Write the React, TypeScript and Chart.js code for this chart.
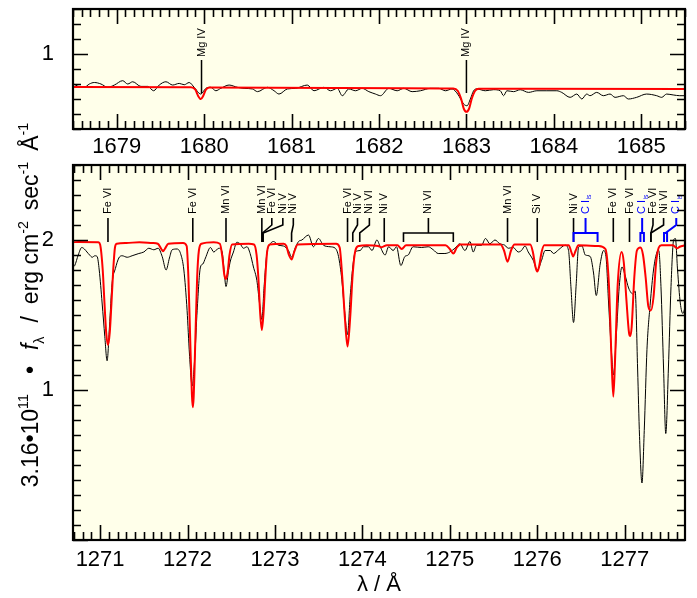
import React, { useEffect, useRef } from 'react';
import { Chart, registerables } from 'chart.js';
Chart.register(...registerables);

const FONT = '"Liberation Sans", Arial, Helvetica, sans-serif';
const BG = '#FFFFEA';

// ---------- top panel (1678.5 - 1685.5 A) ----------
const topXRange = [1678.5, 1685.5];
const topYRange = [0.5, 1.3];
const topXTicks = [1679, 1680, 1681, 1682, 1683, 1684, 1685];
const topYTicks = [1];

const topObsWave = [1678.51, 1678.555, 1678.63, 1678.687, 1678.744, 1678.82, 1678.897, 1678.973, 1679.068, 1679.126, 1679.183, 1679.277, 1679.354, 1679.422, 1679.486, 1679.563, 1679.64, 1679.715, 1679.772, 1679.829, 1679.886, 1679.962, 1680.02, 1680.076, 1680.134, 1680.19, 1680.285, 1680.38, 1680.457, 1680.552, 1680.61, 1680.724, 1680.8, 1680.856, 1680.952, 1681.047, 1681.18, 1681.256, 1681.37, 1681.446, 1681.523, 1681.58, 1681.655, 1681.732, 1681.808, 1681.884, 1681.96, 1682.017, 1682.112, 1682.208, 1682.283, 1682.379, 1682.474, 1682.588, 1682.683, 1682.76, 1682.836, 1682.9, 1682.968, 1683.007, 1683.045, 1683.082, 1683.12, 1683.216, 1683.31, 1683.387, 1683.425, 1683.463, 1683.539, 1683.615, 1683.71, 1683.806, 1683.92, 1684.034, 1684.09, 1684.186, 1684.262, 1684.32, 1684.376, 1684.414, 1684.49, 1684.566, 1684.643, 1684.7, 1684.795, 1684.852, 1684.947, 1685.06, 1685.176, 1685.233, 1685.29, 1685.365, 1685.44, 1685.5];
const topObsFlux = [0.8, 0.785, 0.778, 0.8, 0.81, 0.8, 0.778, 0.793, 0.822, 0.8, 0.815, 0.784, 0.784, 0.755, 0.793, 0.815, 0.793, 0.804, 0.795, 0.81, 0.778, 0.733, 0.771, 0.778, 0.755, 0.771, 0.793, 0.778, 0.771, 0.767, 0.749, 0.778, 0.755, 0.733, 0.767, 0.771, 0.793, 0.755, 0.778, 0.755, 0.771, 0.722, 0.767, 0.755, 0.771, 0.749, 0.733, 0.722, 0.771, 0.755, 0.771, 0.749, 0.755, 0.771, 0.771, 0.755, 0.767, 0.733, 0.667, 0.655, 0.7, 0.755, 0.767, 0.755, 0.762, 0.755, 0.722, 0.755, 0.749, 0.762, 0.744, 0.755, 0.755, 0.755, 0.744, 0.711, 0.733, 0.7, 0.733, 0.722, 0.744, 0.722, 0.733, 0.711, 0.722, 0.7, 0.711, 0.733, 0.722, 0.711, 0.733, 0.727, 0.722, 0.722];

const topModelWave = [1678.5, 1679.85, 1679.9, 1679.93, 1679.962, 1679.99, 1680.02, 1680.06, 1681.5, 1682.85, 1682.9, 1682.94, 1682.97, 1683.0, 1683.03, 1683.06, 1683.1, 1683.14, 1685.5];
const topModelFlux = [0.78, 0.778, 0.762, 0.722, 0.7, 0.722, 0.762, 0.776, 0.774, 0.77, 0.755, 0.7, 0.635, 0.615, 0.635, 0.7, 0.755, 0.768, 0.767];

const topLineWaves = [1679.97, 1683.0];
const topLineTexts = ['Mg IV', 'Mg IV'];

// ---------- bottom panel (1270.69 - 1277.69 A) ----------
const bottomXRange = [1270.69, 1277.69];
const bottomYRange = [0, 2.5];
const bottomXTicks = [1271, 1272, 1273, 1274, 1275, 1276, 1277];
const bottomYTicks = [1, 2];

const bottomObsWave = [1270.69, 1270.71, 1270.75, 1270.79, 1270.82, 1270.85, 1270.88, 1270.91, 1270.94, 1270.966, 1270.99, 1271.023, 1271.054, 1271.08, 1271.107, 1271.137, 1271.175, 1271.214, 1271.252, 1271.31, 1271.366, 1271.443, 1271.5, 1271.557, 1271.614, 1271.664, 1271.71, 1271.755, 1271.793, 1271.824, 1271.88, 1271.92, 1271.958, 1271.995, 1272.022, 1272.053, 1272.083, 1272.11, 1272.148, 1272.175, 1272.205, 1272.262, 1272.3, 1272.358, 1272.396, 1272.415, 1272.44, 1272.47, 1272.49, 1272.525, 1272.564, 1272.6, 1272.64, 1272.68, 1272.716, 1272.754, 1272.793, 1272.823, 1272.85, 1272.876, 1272.907, 1272.937, 1272.983, 1273.04, 1273.097, 1273.154, 1273.193, 1273.23, 1273.27, 1273.308, 1273.384, 1273.44, 1273.498, 1273.555, 1273.63, 1273.69, 1273.727, 1273.765, 1273.795, 1273.83, 1273.86, 1273.89, 1273.918, 1273.975, 1274.013, 1274.07, 1274.11, 1274.166, 1274.204, 1274.26, 1274.3, 1274.352, 1274.39, 1274.44, 1274.486, 1274.524, 1274.58, 1274.676, 1274.753, 1274.81, 1274.867, 1274.944, 1275.0, 1275.058, 1275.115, 1275.173, 1275.23, 1275.268, 1275.305, 1275.363, 1275.408, 1275.458, 1275.516, 1275.573, 1275.63, 1275.668, 1275.725, 1275.783, 1275.82, 1275.86, 1275.897, 1275.954, 1276.0, 1276.05, 1276.09, 1276.149, 1276.187, 1276.244, 1276.32, 1276.358, 1276.385, 1276.415, 1276.446, 1276.472, 1276.511, 1276.55, 1276.606, 1276.644, 1276.675, 1276.72, 1276.759, 1276.786, 1276.816, 1276.847, 1276.873, 1276.904, 1276.938, 1276.969, 1277.007, 1277.045, 1277.095, 1277.12, 1277.148, 1277.17, 1277.198, 1277.224, 1277.255, 1277.293, 1277.33, 1277.37, 1277.39, 1277.415, 1277.445, 1277.47, 1277.5, 1277.53, 1277.56, 1277.58, 1277.605, 1277.636, 1277.666, 1277.69];
const bottomObsFlux = [1.82, 1.83, 1.9, 1.95, 1.94, 1.92, 1.9, 1.885, 1.895, 1.89, 1.8, 1.58, 1.355, 1.195, 1.42, 1.71, 1.81, 1.88, 1.895, 1.885, 1.895, 1.91, 1.92, 1.945, 1.935, 1.945, 1.89, 1.8, 1.88, 1.935, 1.94, 1.91, 1.8, 1.53, 1.24, 1.027, 1.22, 1.53, 1.82, 1.84, 1.88, 1.95, 1.92, 1.945, 1.92, 1.82, 1.69, 1.8, 1.86, 1.92, 1.985, 1.975, 1.945, 1.955, 1.91, 1.82, 1.73, 1.58, 1.47, 1.69, 1.91, 1.965, 1.99, 1.965, 1.96, 1.93, 1.885, 1.945, 1.99, 2.0, 2.033, 1.955, 2.01, 1.965, 1.955, 1.945, 1.89, 1.735, 1.535, 1.37, 1.62, 1.82, 1.92, 1.93, 1.955, 1.955, 1.93, 2.0, 1.955, 1.9, 1.955, 1.93, 1.955, 1.83, 1.89, 1.9, 1.955, 1.95, 1.955, 1.935, 1.91, 1.91, 1.92, 1.945, 1.975, 1.93, 1.99, 1.92, 1.965, 1.965, 2.01, 1.975, 2.0, 1.975, 1.965, 1.945, 1.95, 1.92, 1.93, 1.96, 1.92, 1.865, 1.8, 1.865, 1.93, 1.93, 1.91, 1.935, 1.965, 1.93, 1.69, 1.45, 1.71, 1.95, 1.96, 1.9, 1.89, 1.78, 1.63, 1.84, 1.93, 1.89, 1.58, 1.27, 1.1, 1.36, 1.69, 1.82, 1.76, 1.68, 1.64, 1.66, 1.14, 0.69, 0.38, 0.73, 1.27, 1.58, 1.8, 1.92, 1.93, 1.69, 1.14, 0.71, 1.14, 1.69, 2.0, 2.01, 1.8, 1.58, 1.51, 1.55];

const bottomModelWave = [1270.69, 1270.75, 1270.98, 1271.0, 1271.03, 1271.05, 1271.07, 1271.09, 1271.11, 1271.13, 1271.15, 1271.17, 1271.19, 1271.3, 1271.45, 1271.6, 1271.66, 1271.7, 1271.72, 1271.74, 1271.78, 1271.95, 1271.99, 1272.01, 1272.03, 1272.05, 1272.06, 1272.07, 1272.09, 1272.11, 1272.13, 1272.16, 1272.3, 1272.37, 1272.4, 1272.42, 1272.44, 1272.46, 1272.48, 1272.51, 1272.7, 1272.76, 1272.79, 1272.81, 1272.83, 1272.85, 1272.87, 1272.89, 1272.91, 1272.94, 1273.1, 1273.13, 1273.16, 1273.19, 1273.22, 1273.26, 1273.7, 1273.74, 1273.77, 1273.8, 1273.83, 1273.86, 1273.89, 1273.92, 1273.96, 1274.05, 1274.18, 1274.22, 1274.28, 1274.4, 1274.45, 1274.5, 1274.95, 1275.0, 1275.04, 1275.08, 1275.12, 1275.58, 1275.62, 1275.66, 1275.7, 1275.74, 1275.92, 1275.95, 1275.98, 1276.0, 1276.02, 1276.05, 1276.08, 1276.36, 1276.39, 1276.41, 1276.44, 1276.47, 1276.7, 1276.78, 1276.82, 1276.85, 1276.87, 1276.89, 1276.92, 1276.965, 1276.99, 1277.02, 1277.05, 1277.065, 1277.08, 1277.11, 1277.14, 1277.18, 1277.21, 1277.24, 1277.27, 1277.3, 1277.33, 1277.36, 1277.39, 1277.42, 1277.55, 1277.6, 1277.63, 1277.69];
const bottomModelFlux = [1.985, 1.987, 1.985, 1.97, 1.8, 1.58, 1.38, 1.3, 1.38, 1.58, 1.8, 1.95, 1.975, 1.98, 1.985, 1.98, 1.975, 1.94, 1.925, 1.94, 1.975, 1.98, 1.96, 1.75, 1.35, 0.97, 0.885, 0.95, 1.35, 1.75, 1.93, 1.975, 1.985, 1.975, 1.88, 1.77, 1.74, 1.79, 1.9, 1.97, 1.975, 1.97, 1.9, 1.75, 1.52, 1.4, 1.52, 1.75, 1.92, 1.97, 1.975, 1.96, 1.9, 1.87, 1.92, 1.97, 1.975, 1.95, 1.75, 1.48, 1.29, 1.48, 1.78, 1.93, 1.96, 1.965, 1.96, 1.952, 1.965, 1.965, 1.94, 1.965, 1.965, 1.94, 1.91, 1.95, 1.97, 1.97, 1.93, 1.855, 1.93, 1.97, 1.97, 1.92, 1.82, 1.79, 1.82, 1.92, 1.965, 1.965, 1.92, 1.89, 1.93, 1.965, 1.96, 1.94, 1.7, 1.2, 0.955, 1.2, 1.7, 1.92, 1.85, 1.6, 1.38, 1.36, 1.42, 1.75, 1.93, 1.95, 1.9, 1.75, 1.56, 1.53, 1.62, 1.85, 1.95, 1.965, 1.965, 1.945, 1.955, 1.965];

// line identifications (line position, text position, text)
const bottomLineWaves = [1271.09, 1272.06, 1272.44, 1272.85, 1272.857, 1272.865, 1273.19, 1273.83, 1273.89, 1273.97, 1274.25, 1275.66, 1276.0, 1276.415, 1276.87, 1277.055, 1277.3, 1277.3];
const bottomLineTextWaves = [1271.09, 1272.06, 1272.44, 1272.85, 1272.964, 1273.09, 1273.21, 1273.83, 1273.944, 1274.08, 1274.25, 1275.66, 1276.0, 1276.415, 1276.87, 1277.055, 1277.324, 1277.445];
const bottomLineTexts = ['Fe VI', 'Fe VI', 'Mn VI', 'Mn VI', 'Fe VI', 'Ni V', 'Ni V', 'Fe VI', 'Ni V', 'Ni VI', 'Ni V', 'Mn VI', 'Si V', 'Ni V', 'Fe VI', 'Fe VI', 'Fe VI', 'Ni VI'];

// multiplet / interstellar brackets
const bracketStart = [1274.47, 1276.415, 1277.18, 1277.45];
const bracketEnd = [1275.04, 1276.69, 1277.22, 1277.485];
const bracketTextWaves = [1274.755, 1276.552, 1277.2, 1277.59];
const bracketTexts = ['Ni VI', 'C I', 'C I', 'C I'];
const bracketSubs = ['', 'is', 'is', 'is'];
const bracketColors = ['#000000', '#0000ff', '#0000ff', '#0000ff'];

// y-axis title pieces (g = extra gap in px before the piece)
const yTitleParts = [
  { t: '3.16\u202210', s: 1, dy: 0, it: false, g: 0 },
  { t: '11', s: 0.62, dy: -0.42, it: false, g: 0 },
  { t: '\u2022', s: 1, dy: 0, it: false, g: 20 },
  { t: 'f', s: 1, dy: 0, it: true, g: 16 },
  { t: '\u03bb', s: 0.62, dy: 0.25, it: false, g: 0 },
  { t: '/', s: 1, dy: 0, it: false, g: 14 },
  { t: 'erg cm', s: 1, dy: 0, it: false, g: 12 },
  { t: '-2', s: 0.62, dy: -0.42, it: false, g: 0 },
  { t: 'sec', s: 1, dy: 0, it: false, g: 11 },
  { t: '-1', s: 0.62, dy: -0.42, it: false, g: 0 },
  { t: '\u00c5', s: 1, dy: 0, it: false, g: 11 },
  { t: '-1', s: 0.62, dy: -0.42, it: false, g: 0 },
];
const xTitle = '\u03bb / \u00c5';

function drawVText(ctx: CanvasRenderingContext2D, text: string, sub: string, x: number, yBottom: number, size: number, color: string) {
  ctx.save();
  ctx.translate(x, yBottom);
  ctx.rotate(-Math.PI / 2);
  ctx.font = `${size}px ${FONT}`;
  ctx.fillStyle = color;
  ctx.textAlign = 'left';
  ctx.textBaseline = 'middle';
  ctx.fillText(text, 0, 0);
  if (sub) {
    const w = ctx.measureText(text).width;
    ctx.font = `${size * 0.62}px ${FONT}`;
    ctx.fillText(sub, w + 0.5, size * 0.32);
  }
  ctx.restore();
}

const bgPlugin = {
  id: 'bg',
  beforeDatasetsDraw(chart: any) {
    const { ctx, chartArea: a } = chart;
    ctx.save();
    ctx.fillStyle = BG;
    ctx.fillRect(a.left, a.top, a.right - a.left, a.bottom - a.top);
    ctx.restore();
  },
};

function framePlugin(minor: number) {
  return {
    id: 'frame',
    afterDatasetsDraw(chart: any) {
      const { ctx, chartArea: a } = chart;
      const xs = chart.scales.x;
      const ys = chart.scales.y;
      ctx.save();
      ctx.strokeStyle = '#000';
      ctx.lineWidth = 1.6;
      ctx.beginPath();
      const x0 = Math.ceil(xs.min / minor - 1e-6), x1 = Math.floor(xs.max / minor + 1e-6);
      for (let k = x0; k <= x1; k++) {
        const px = Math.round(xs.getPixelForValue(k * minor)) + 0.5;
        const len = k % 10 === 0 ? 15 : 8;
        ctx.moveTo(px, a.bottom); ctx.lineTo(px, a.bottom - len);
        ctx.moveTo(px, a.top); ctx.lineTo(px, a.top + len);
      }
      const y0 = Math.ceil(ys.min / minor - 1e-6), y1 = Math.floor(ys.max / minor + 1e-6);
      for (let k = y0; k <= y1; k++) {
        const py = Math.round(ys.getPixelForValue(k * minor)) + 0.5;
        const len = k % 10 === 0 ? 15 : 8;
        ctx.moveTo(a.left, py); ctx.lineTo(a.left + len, py);
        ctx.moveTo(a.right, py); ctx.lineTo(a.right - len, py);
      }
      ctx.stroke();
      ctx.lineWidth = 2.2;
      ctx.strokeRect(a.left, a.top, a.right - a.left, a.bottom - a.top);
      ctx.restore();
    },
  };
}

const topLabelPlugin = {
  id: 'topLabels',
  afterDatasetsDraw(chart: any) {
    const { ctx } = chart;
    const xs = chart.scales.x;
    ctx.save();
    ctx.strokeStyle = '#000';
    ctx.lineWidth = 1.5;
    topLineWaves.forEach((w, i) => {
      const px = xs.getPixelForValue(w);
      ctx.beginPath();
      ctx.moveTo(px, 60); ctx.lineTo(px, 93);
      ctx.stroke();
      drawVText(ctx, topLineTexts[i], '', px, 57, 11, '#000');
    });
    ctx.restore();
  },
};

const YB = 242, Y1 = 233, Y2 = 225, YT = 218, YTXT = 214;

const bottomLabelPlugin = {
  id: 'bottomLabels',
  afterDatasetsDraw(chart: any) {
    const { ctx } = chart;
    const xs = chart.scales.x;
    ctx.save();
    ctx.lineWidth = 1.6;
    ctx.strokeStyle = '#000';
    bottomLineWaves.forEach((w, i) => {
      const px = xs.getPixelForValue(w);
      const tx = xs.getPixelForValue(bottomLineTextWaves[i]);
      ctx.beginPath();
      if (Math.abs(tx - px) < 0.8) {
        ctx.moveTo(px, YB); ctx.lineTo(px, YT);
      } else {
        ctx.moveTo(px, YB); ctx.lineTo(px, Y1); ctx.lineTo(tx, Y2); ctx.lineTo(tx, YT);
      }
      ctx.stroke();
      drawVText(ctx, bottomLineTexts[i], '', tx, YTXT, 11, '#000');
    });
    bracketStart.forEach((s, i) => {
      const pa = xs.getPixelForValue(s);
      const pb = xs.getPixelForValue(bracketEnd[i]);
      const pm = (pa + pb) / 2;
      const tx = xs.getPixelForValue(bracketTextWaves[i]);
      ctx.strokeStyle = bracketColors[i];
      ctx.lineWidth = bracketColors[i] === '#000000' ? 1.6 : 2;
      ctx.beginPath();
      ctx.moveTo(pa, YB); ctx.lineTo(pa, Y1); ctx.lineTo(pb, Y1); ctx.lineTo(pb, YB);
      ctx.moveTo(pm, Y1);
      if (Math.abs(tx - pm) < 0.8) {
        ctx.lineTo(pm, YT);
      } else {
        ctx.lineTo(tx, Y2); ctx.lineTo(tx, YT);
      }
      ctx.stroke();
      drawVText(ctx, bracketTexts[i], bracketSubs[i], tx, YTXT, 11, bracketColors[i]);
    });
    ctx.restore();
  },
};

const titlePlugin = {
  id: 'titles',
  afterDraw(chart: any) {
    const { ctx, chartArea: a } = chart;
    ctx.save();
    ctx.fillStyle = '#000';
    // x title
    ctx.font = `22px ${FONT}`;
    ctx.textAlign = 'center';
    ctx.textBaseline = 'alphabetic';
    ctx.fillText(xTitle, (a.left + a.right) / 2, 591);
    // y title (rotated, rich text)
    const base = 23;
    let total = 0;
    const widths: number[] = [];
    yTitleParts.forEach((p) => {
      ctx.font = `${p.it ? 'italic ' : ''}${base * p.s}px ${FONT}`;
      const w = ctx.measureText(p.t).width;
      widths.push(w);
      total += w + p.g;
    });
    ctx.translate(38, 305);
    ctx.rotate(-Math.PI / 2);
    ctx.textAlign = 'left';
    let x = -total / 2;
    yTitleParts.forEach((p, i) => {
      x += p.g;
      ctx.font = `${p.it ? 'italic ' : ''}${base * p.s}px ${FONT}`;
      ctx.fillText(p.t, x, p.dy * base);
      x += widths[i];
    });
    ctx.restore();
  },
};

function zip(xs: number[], ys: number[]) {
  return xs.map((x, i) => ({ x, y: ys[i] }));
}

function makeConfig(o: any): any {
  return {
    type: 'line',
    data: {
      datasets: [
        { data: zip(o.modelWave, o.modelFlux), borderColor: '#ff0000', borderWidth: 2, pointRadius: 0, cubicInterpolationMode: 'monotone', order: 0 },
        { data: zip(o.obsWave, o.obsFlux), borderColor: '#000000', borderWidth: 1, pointRadius: 0, cubicInterpolationMode: 'monotone', order: 1 },
      ],
    },
    options: {
      responsive: false,
      maintainAspectRatio: false,
      animation: false,
      devicePixelRatio: 1,
      events: [],
      layout: { padding: { top: o.padTop, right: 12, left: 0, bottom: 0 } },
      plugins: { legend: { display: false }, tooltip: { enabled: false }, title: { display: false } },
      scales: {
        x: {
          type: 'linear', min: o.xRange[0], max: o.xRange[1],
          afterBuildTicks: (s: any) => { s.ticks = o.xTicks.map((v: number) => ({ value: v })); },
          afterFit: (s: any) => { s.height = o.xAxisHeight; s.paddingLeft = 0; s.paddingRight = 0; },
          grid: { display: false, drawTicks: false },
          border: { display: false },
          ticks: { font: { size: 22, family: FONT }, color: '#000', padding: o.xPad, maxRotation: 0, autoSkip: false, callback: (v: any) => String(v) },
        },
        y: {
          type: 'linear', min: o.yRange[0], max: o.yRange[1],
          afterBuildTicks: (s: any) => { s.ticks = o.yTicks.map((v: number) => ({ value: v })); },
          afterFit: (s: any) => { s.width = 73; s.paddingTop = 0; s.paddingBottom = 0; },
          grid: { display: false, drawTicks: false },
          border: { display: false },
          ticks: { font: { size: 22, family: FONT }, color: '#000', padding: 19, callback: (v: any) => String(v) },
        },
      },
    },
    plugins: o.plugins,
  };
}

export default function App() {
  const topRef = useRef<HTMLCanvasElement>(null);
  const botRef = useRef<HTMLCanvasElement>(null);
  useEffect(() => {
    Chart.defaults.font.family = FONT;
    const bottom = new Chart(botRef.current as HTMLCanvasElement, makeConfig({
      modelWave: bottomModelWave, modelFlux: bottomModelFlux, obsWave: bottomObsWave, obsFlux: bottomObsFlux,
      xRange: bottomXRange, yRange: bottomYRange, xTicks: bottomXTicks, yTicks: bottomYTicks,
      padTop: 165, xAxisHeight: 58, xPad: 7,
      plugins: [bgPlugin, bottomLabelPlugin, framePlugin(0.1), titlePlugin],
    }));
    const top = new Chart(topRef.current as HTMLCanvasElement, makeConfig({
      modelWave: topModelWave, modelFlux: topModelFlux, obsWave: topObsWave, obsFlux: topObsFlux,
      xRange: topXRange, yRange: topYRange, xTicks: topXTicks, yTicks: topYTicks,
      padTop: 9, xAxisHeight: 31, xPad: 5,
      plugins: [bgPlugin, topLabelPlugin, framePlugin(0.1)],
    }));
    return () => { bottom.destroy(); top.destroy(); };
  }, []);
  return (
    <div style={{ position: 'absolute', left: 0, top: 0, width: 697, height: 598, background: '#ffffff' }}>
      <canvas ref={botRef} width={697} height={598} style={{ position: 'absolute', left: 0, top: 0 }} />
      <canvas ref={topRef} width={697} height={160} style={{ position: 'absolute', left: 0, top: 0 }} />
    </div>
  );
}
